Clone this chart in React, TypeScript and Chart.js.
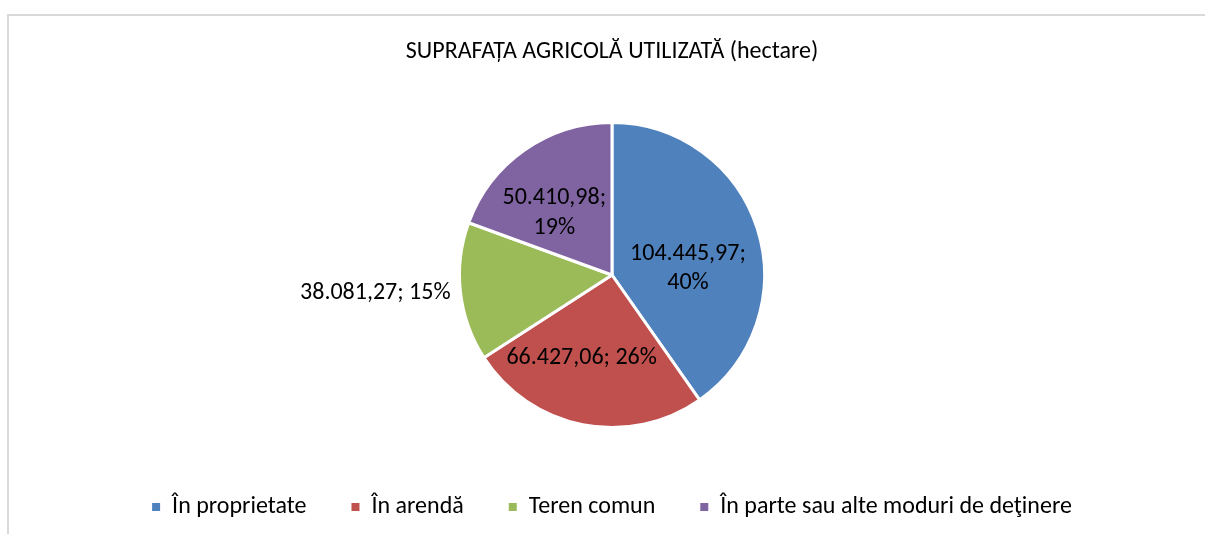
import React, { useEffect, useRef } from "react";
import { Chart, registerables } from "chart.js";

Chart.register(...registerables);

const chartTitle = "SUPRAFAȚA AGRICOLĂ UTILIZATĂ (hectare)";
const categories = [
  "În proprietate",
  "În arendă",
  "Teren comun",
  "În parte sau alte moduri de deţinere",
];
const values = [104445.97, 66427.06, 38081.27, 50410.98];
const sliceColors = ["#4F81BD", "#C0504D", "#9BBB59", "#8064A2"];

// label layout (emulating Excel best-fit placement)
const labelTwoLines = [true, false, false, true];
const labelOutside = [false, false, true, false];
const labelRadius = [0.5, 0.58, 1.065, 0.555];
const labelAngleShift = [12.5, 9, 0, -8];

const FONT = "Carlito, Lato, sans-serif";
const FONT_SIZE = 24;

function formatRo(v: number): string {
  const fixed = v.toFixed(2);
  const [intPart, dec] = fixed.split(".");
  const withDots = intPart.replace(/\B(?=(\d{3})+(?!\d))/g, ".");
  return withDots + "," + dec;
}

const sliceLabelPlugin = {
  id: "sliceLabels",
  afterDatasetsDraw(chart: any) {
    const meta = chart.getDatasetMeta(0);
    const ds = chart.data.datasets[0].data as number[];
    const total = ds.reduce((a, b) => a + b, 0);
    const ctx = chart.ctx as CanvasRenderingContext2D;
    ctx.save();
    ctx.font = `${FONT_SIZE}px ${FONT}`;
    ctx.fillStyle = "#000000";
    ctx.textBaseline = "middle";
    meta.data.forEach((arc: any, i: number) => {
      const p = arc.getProps(["x", "y", "startAngle", "endAngle", "outerRadius"], true);
      const mid = (p.startAngle + p.endAngle) / 2 + (labelAngleShift[i] * Math.PI) / 180;
      const r = p.outerRadius * labelRadius[i];
      const cx = p.x + Math.cos(mid) * r;
      const cy = p.y + Math.sin(mid) * r;
      const valStr = formatRo(ds[i]) + ";";
      const pctStr = Math.round((ds[i] / total) * 100) + "%";
      if (labelOutside[i]) {
        ctx.textAlign = Math.cos(mid) < 0 ? "right" : "left";
        ctx.fillText(valStr + " " + pctStr, cx, cy);
      } else if (labelTwoLines[i]) {
        ctx.textAlign = "center";
        const lh = FONT_SIZE * 1.22;
        ctx.fillText(valStr, cx, cy - lh / 2);
        ctx.fillText(pctStr, cx, cy + lh / 2);
      } else {
        ctx.textAlign = "center";
        ctx.fillText(valStr + " " + pctStr, cx, cy);
      }
    });
    ctx.restore();
  },
};

export default function App() {
  const canvasRef = useRef<HTMLCanvasElement | null>(null);

  useEffect(() => {
    if (!canvasRef.current) return;
    const chart = new Chart(canvasRef.current, {
      type: "pie",
      data: {
        labels: categories,
        datasets: [
          {
            data: values,
            backgroundColor: sliceColors,
            borderColor: "#FFFFFF",
            borderWidth: 3,
          },
        ],
      },
      options: {
        responsive: false,
        animation: false,
        devicePixelRatio: 1,
        radius: 152.5,
        layout: { padding: { left: 19, right: 0, top: 0, bottom: 5 } },
        plugins: {
          title: {
            display: true,
            text: chartTitle,
            color: "#000000",
            font: { family: FONT, size: FONT_SIZE, weight: "normal" },
            padding: { top: 37.6, bottom: 33.6 },
          },
          legend: {
            display: true,
            position: "bottom",
            labels: {
              color: "#000000",
              font: { family: FONT, size: FONT_SIZE },
              boxWidth: 8,
              boxHeight: 8,
              padding: 45,
              generateLabels: (chart: any) => {
                const ds = chart.data.datasets[0];
                return (chart.data.labels as string[]).map((text, i) => ({
                  text,
                  fillStyle: ds.backgroundColor[i],
                  strokeStyle: ds.backgroundColor[i],
                  lineWidth: 0,
                  hidden: false,
                  index: i,
                  fontColor: "#000000",
                }));
              },
            },
          },
          tooltip: { enabled: false },
        },
      } as any,
      plugins: [sliceLabelPlugin],
    });
    return () => chart.destroy();
  }, []);

  return (
    <div
      style={{
        position: "fixed",
        left: 0,
        top: 0,
        width: 1205,
        height: 534,
        overflow: "hidden",
        background: "#FFFFFF",
      }}
    >
      <div
        style={{
          position: "absolute",
          left: 7,
          top: 14,
          width: 1400,
          height: 700,
          border: "2px solid #D9D9D9",
          boxSizing: "border-box",
        }}
      />
      <canvas
        ref={canvasRef}
        width={1205}
        height={534}
        style={{ position: "absolute", left: 0, top: 0, width: 1205, height: 534 }}
      />
    </div>
  );
}
